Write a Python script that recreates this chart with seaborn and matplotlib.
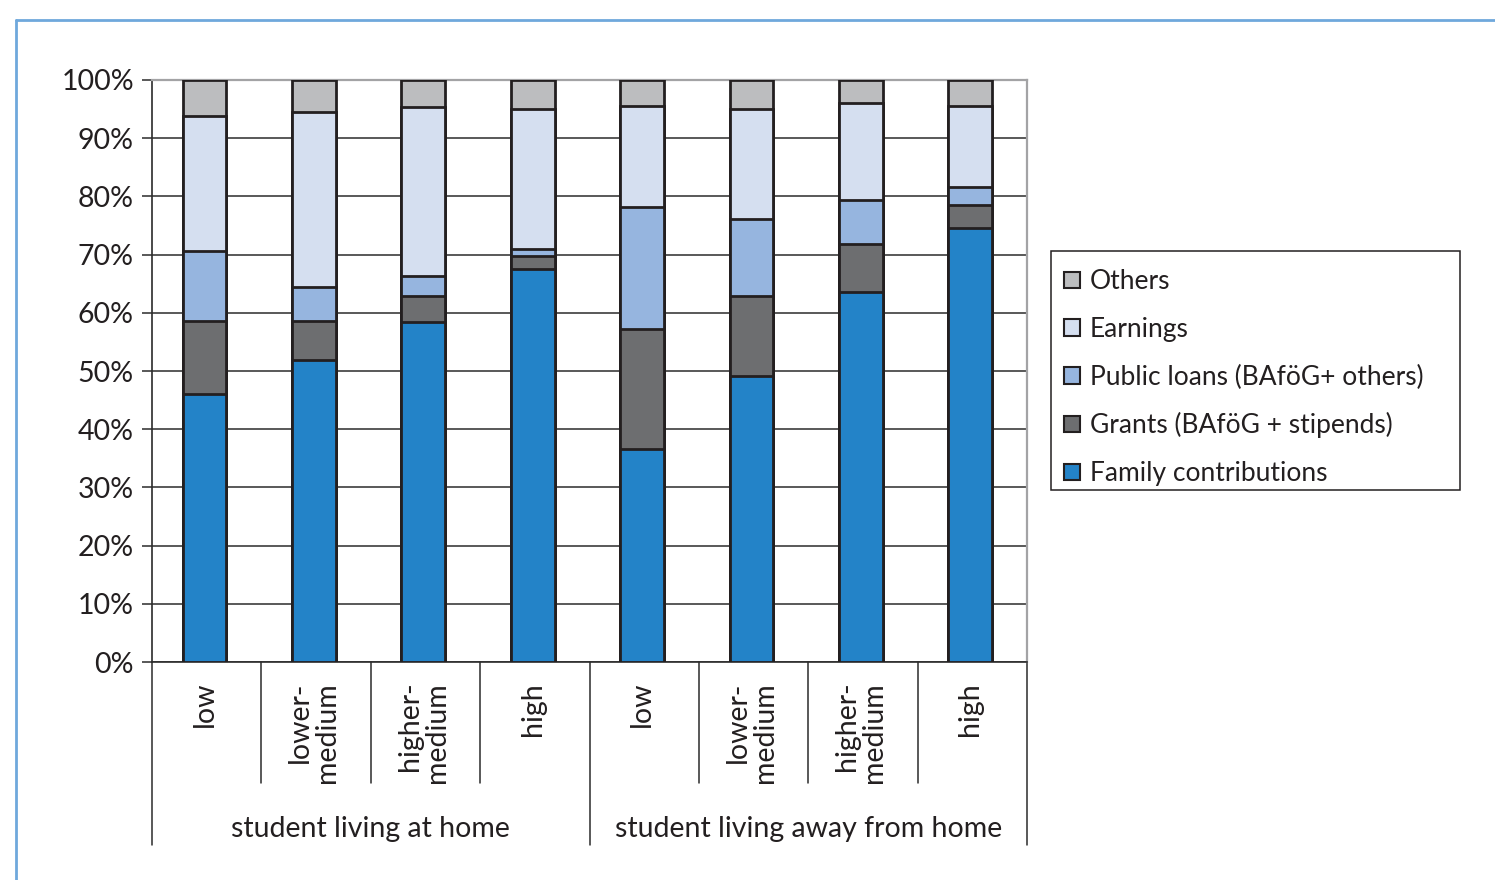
import numpy as np
import pandas as pd
import matplotlib.pyplot as plt
from matplotlib.patches import Patch, Rectangle
from matplotlib.lines import Line2D
import matplotlib.transforms as mtransforms
import seaborn as sns

sns.set_style("white")
plt.rcParams['font.family'] = ['Lato', 'DejaVu Sans']

# income groups, two living situations
groups = ["student living at home", "student living away from home"]
incomes = ["low", "lower-\nmedium", "higher-\nmedium", "high"]

# shares in % (bottom to top of each stack)
family = [46.0, 51.9, 58.5, 67.5, 36.6, 49.1, 63.6, 74.5]
grants = [12.6, 6.7, 4.4, 2.3, 20.7, 13.8, 8.3, 4.0]
loans = [12.1, 5.8, 3.5, 1.2, 20.8, 13.2, 7.4, 3.2]
earnings = [23.1, 30.1, 28.9, 24.0, 17.5, 18.9, 16.8, 13.9]
others = [6.2, 5.5, 4.7, 5.0, 4.4, 5.0, 3.9, 4.4]

series = ["Family contributions", "Grants (BAföG + stipends)",
          "Public loans (BAföG+ others)", "Earnings", "Others"]
colors = ["#2383c8", "#6d6e70", "#96b5df", "#d5dff0", "#bcbdbf"]
edge = "#231f20"
axis_size = 20.5
legend_size = 19

keys = [f"{gi}|{i}" for gi in range(len(groups)) for i in incomes]
vals = np.array([family, grants, loans, earnings, others])
cum = np.cumsum(vals, axis=0)
cum = cum / cum[-1:] * 100

fig = plt.figure(figsize=(14.95, 8.8), dpi=100, facecolor='w')
ax = fig.add_axes([152 / 1495, 1 - 662 / 880, 875 / 1495, 582 / 880])

# draw tallest stack first, overlay the lower ones
for k in range(len(series) - 1, -1, -1):
    df = pd.DataFrame({"key": keys, "val": cum[k]})
    sns.barplot(data=df, x="key", y="val", order=keys, color=colors[k],
                saturation=1, edgecolor=edge, linewidth=2.0, width=0.4,
                ax=ax, zorder=3)

ax.set_xlim(-0.48, 7.52)
ax.set_ylim(0, 100)
ax.set_yticks(np.arange(0, 101, 10))
ax.set_yticklabels([f"{v}%" for v in range(0, 101, 10)])
ax.set_xticks([])
ax.set_xlabel("")
ax.set_ylabel("")
ax.yaxis.grid(True, color="#2b2b2b", linewidth=1.1, zorder=0)
ax.set_axisbelow(True)
ax.tick_params(axis='y', which='major', left=True, length=7, width=1.1,
               color="#2b2b2b", pad=6, labelsize=axis_size, labelcolor="#231f20")

for side in ["top", "right"]:
    ax.spines[side].set_color("#a3a3a5")
    ax.spines[side].set_linewidth(1.6)
for side in ["left", "bottom"]:
    ax.spines[side].set_color("#2b2b2b")
    ax.spines[side].set_linewidth(1.2)

# category dividers and labels below the axis
trans = mtransforms.blended_transform_factory(ax.transData, ax.transAxes)
for b in [0.52, 1.52, 2.52, 4.52, 5.52, 6.52]:
    ax.add_line(Line2D([b, b], [0, -0.208], transform=trans, color="#2b2b2b",
                       linewidth=1.1, clip_on=False))
for b in [-0.48, 3.52, 7.52]:
    ax.add_line(Line2D([b, b], [0, -0.314], transform=trans, color="#2b2b2b",
                       linewidth=1.1, clip_on=False))

for i, key in enumerate(keys):
    ax.text(i, -0.034, key.split("|")[1], transform=trans, rotation=90,
            ha='center', va='top', multialignment='right', linespacing=1.05,
            fontsize=axis_size, color="#231f20")
for j, g in enumerate(groups):
    ax.text(1.52 + 4 * j, -0.287, g, transform=trans, ha='center',
            va='center', fontsize=axis_size, color="#231f20")

# legend entries without frame, box drawn separately
handles = [Patch(facecolor=colors[k], edgecolor=edge, linewidth=1.5,
                 label=series[k]) for k in range(len(series) - 1, -1, -1)]
leg = fig.legend(handles=handles, loc='upper left',
                 bbox_to_anchor=(1051 / 1495, 1 - 256 / 880),
                 fontsize=legend_size, frameon=False,
                 handlelength=0.58, handleheight=0.58, handletextpad=0.38,
                 labelspacing=0.86, borderpad=0.5, borderaxespad=0)
for t in leg.get_texts():
    t.set_color("#231f20")
fig.add_artist(Rectangle((1051 / 1495, 1 - 490 / 880), 409 / 1495, 239 / 880,
                         transform=fig.transFigure, fill=False,
                         edgecolor=edge, linewidth=1.1))

# light blue frame around the chart
fig.add_artist(Line2D([16 / 1495, 1], [1 - 20 / 880, 1 - 20 / 880],
                      transform=fig.transFigure, color="#6fa8dc", linewidth=2))
fig.add_artist(Line2D([16 / 1495, 16 / 1495], [0, 1 - 20 / 880],
                      transform=fig.transFigure, color="#6fa8dc", linewidth=2))

fig.savefig("out.png", dpi=100, facecolor='w')
